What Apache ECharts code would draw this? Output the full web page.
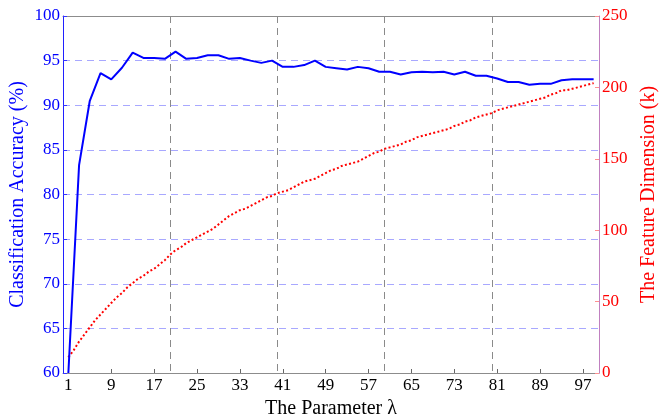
<!DOCTYPE html>
<html>
<head>
<meta charset="utf-8">
<script src="https://cdn.jsdelivr.net/npm/echarts@6/dist/echarts.min.js"></script>
<style>html,body{margin:0;padding:0;background:#fff}#c{width:665px;height:420px}</style>
</head>
<body>
<div id="c"></div>
<script>
var accLambda = [1,3,5,7,9,11,13,15,17,19,21,23,25,27,29,31,33,35,37,39,41,43,45,47,49,51,53,55,57,59,61,63,65,67,69,71,73,75,77,79,81,83,85,87,89,91,93,95,97,99];
var accuracy = [60,83.3,90.5,93.6,92.9,94.2,95.9,95.3,95.3,95.2,96.0,95.2,95.3,95.6,95.6,95.2,95.3,95.0,94.75,95.0,94.3,94.3,94.5,95.0,94.3,94.15,94.0,94.3,94.15,93.75,93.75,93.45,93.7,93.75,93.7,93.75,93.45,93.75,93.3,93.3,93.0,92.6,92.6,92.3,92.4,92.4,92.8,92.9,92.9,92.9];
var dimLambda = [1,2,3,4,5,6,7,8,9,10,11,12,13,14,15,16,17,18,19,20,21,22,23,24,25,26,27,28,29,30,31,32,33,34,35,36,37,38,39,40,41,42,43,44,45,46,47,48,49,50,51,52,53,54,55,56,57,58,59,60,61,62,63,64,65,66,67,68,69,70,71,72,73,74,75,76,77,78,79,80,81,82,83,84,85,86,87,88,89,90,91,92,93,94,95,96,97,98,99];
var dimension = [11,16,22,27,32,37,41,45,49,53,56,60,63,66,68,71,73,76,79,83,86,88,91,93,95,97,99,101,104,107,110,112,114,115,117,119,121,123,124,126,127,128,130,132,134,135,136,138,140,142,143,145,146,147,148,150,152,154,155,157,158,159,160,162,163,165,166,167,168,169,170,171,173,174,176,177,179,180,181,182,184,185,186,187,188,189,190,191,192,193,195,196,198,198,199,200,201,202,203];
var xTickLabels = [1,9,17,25,33,41,49,57,65,73,81,89,97];

var accData = accLambda.map(function(x,i){return [x, accuracy[i]];});
var dimData = dimLambda.map(function(x,i){return [x, dimension[i]];});

var serif = 'Liberation Serif';
var chart = echarts.init(document.getElementById('c'), null, {renderer:'canvas'});
chart.setOption({
  animation: false,
  grid: {left: 63, right: 66, top: 16, bottom: 47, show: false, containLabel: false, outerBoundsMode: 'none'},
  xAxis: [{
    type: 'value', min: 0, max: 100, interval: 20, position: 'bottom',
    axisLine: {show: true, onZero: false, lineStyle: {color: '#8c8c8c', width: 1}},
    axisTick: {show: false},
    axisLabel: {show: false},
    splitLine: {show: true, lineStyle: {color: '#8a8a8a', type: [7,5], width: 1}}
  },{
    type: 'value', min: 0, max: 100, position: 'bottom',
    name: 'The Parameter λ', nameLocation: 'middle', nameGap: 22,
    nameTextStyle: {fontFamily: serif, fontSize: 20, color: '#000'},
    axisLine: {show: false, onZero: false},
    axisTick: {show: true, inside: true, length: 4, customValues: xTickLabels, lineStyle: {color: '#666'}},
    axisLabel: {show: true, customValues: xTickLabels, fontFamily: serif, fontSize: 17, color: '#000', margin: 4},
    splitLine: {show: false}
  },{
    type: 'value', min: 0, max: 100, position: 'top',
    axisLine: {show: true, onZero: false, lineStyle: {color: '#8c8c8c', width: 1}},
    axisTick: {show: false},
    axisLabel: {show: false},
    splitLine: {show: false}
  }],
  yAxis: [{
    type: 'value', min: 60, max: 100, interval: 5, position: 'left',
    name: 'Classification Accuracy (%)', nameLocation: 'middle', nameGap: 35, nameMoveOverlap: false,
    nameTextStyle: {fontFamily: serif, fontSize: 20, color: '#0000ff'},
    axisLine: {show: true, onZero: false, lineStyle: {color: '#2020ff', width: 1}},
    axisTick: {show: true, inside: true, length: 4, lineStyle: {color: '#3333ff'}},
    axisLabel: {fontFamily: serif, fontSize: 17, color: '#0000ff', margin: 3},
    splitLine: {show: true, lineStyle: {color: '#a8a8ff', type: [7,5], width: 1}}
  },{
    type: 'value', min: 0, max: 250, interval: 50, position: 'right',
    name: 'The Feature Dimension (k)', nameLocation: 'middle', nameGap: 39, nameRotate: 90,
    nameTextStyle: {fontFamily: serif, fontSize: 20, color: '#ff0000'},
    axisLine: {show: true, onZero: false, lineStyle: {color: '#c080c0', width: 1}},
    axisTick: {show: true, inside: true, length: 4, lineStyle: {color: '#ff9090'}},
    axisLabel: {fontFamily: serif, fontSize: 17, color: '#ff0000', margin: 3},
    splitLine: {show: false}
  }],
  series: [{
    type: 'line', data: accData, xAxisIndex: 0, yAxisIndex: 0,
    showSymbol: false, symbol: 'none', clip: true,
    lineStyle: {color: '#0000ff', width: 2}, z: 3
  },{
    type: 'line', data: dimData, xAxisIndex: 0, yAxisIndex: 1,
    showSymbol: false, symbol: 'none', clip: true,
    lineStyle: {color: '#ff0000', width: 2, type: [2,2.3]}, z: 2
  }]
});
</script>
</body>
</html>
